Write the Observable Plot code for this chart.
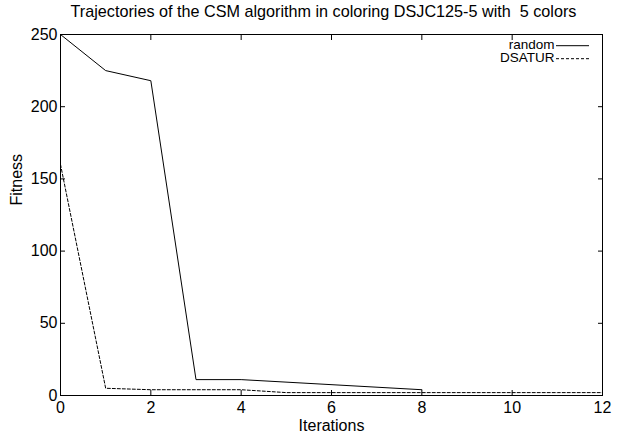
<!DOCTYPE html>
<html><head><meta charset="utf-8">
<script src="https://cdn.jsdelivr.net/npm/d3@7"></script>
<script src="https://cdn.jsdelivr.net/npm/@observablehq/plot@0.6"></script>
<style>
body{margin:0;background:#fff;font-family:"Liberation Sans",Arial,sans-serif;}
#title{height:22px;line-height:22px;font-size:16.2px;text-align:center;padding-left:30px;width:587px;color:#000;white-space:pre;}
</style></head><body>
<div id="title">Trajectories of the CSM algorithm in coloring DSJC125-5 with  5 colors</div>
<div id="chart"></div>
<script>
const xTicks = [0, 2, 4, 6, 8, 10, 12];
const yTicks = [0, 50, 100, 150, 200, 250];
const seriesNames = ["random", "DSATUR"];
const iterRandom = [0, 1, 2, 3, 4, 8];
const fitRandom = [250, 225, 218, 11, 11, 4];
const iterDsatur = [0, 1, 2, 3, 4, 5, 6, 7, 8, 9, 10, 11, 12];
const fitDsatur = [160, 5, 4, 4, 4, 2, 2, 2, 2, 2, 2, 2, 2];

const randomData = iterRandom.map((x, i) => ({x, y: fitRandom[i]}));
const dsaturData = iterDsatur.map((x, i) => ({x, y: fitDsatur[i]}));

const W = 617, H = 414, mL = 60, mR = 15, mT = 12, mB = 41;
const font = "Liberation Sans, Arial, sans-serif";

const plot = Plot.plot({
  width: W, height: H,
  marginLeft: mL, marginRight: mR, marginTop: mT, marginBottom: mB,
  style: {fontFamily: font, fontSize: "16px", color: "#000", background: "#fff"},
  x: {domain: [0, 12]},
  y: {domain: [0, 250]},
  marks: [
    Plot.frame({stroke: "#000", strokeWidth: 1}),
    Plot.axisX({ticks: xTicks, anchor: "bottom", tickSize: 0, tickPadding: 6, label: null, fontSize: 16}),
    Plot.axisX({ticks: xTicks, anchor: "bottom", tickSize: -5, tickFormat: () => "", label: null}),
    Plot.axisX({ticks: xTicks, anchor: "top", tickSize: -5, tickFormat: () => "", label: null}),
    Plot.axisY({ticks: yTicks, anchor: "left", tickSize: 0, tickPadding: 3, label: null, fontSize: 16}),
    Plot.axisY({ticks: yTicks, anchor: "left", tickSize: -5, tickFormat: () => "", label: null}),
    Plot.axisY({ticks: yTicks, anchor: "right", tickSize: -5, tickFormat: () => "", label: null}),
    Plot.line(randomData, {x: "x", y: "y", stroke: "#000", strokeWidth: 1}),
    Plot.line(dsaturData, {x: "x", y: "y", stroke: "#000", strokeWidth: 1, strokeDasharray: "3,2"}),
    Plot.text(["Iterations"], {text: d => d, frameAnchor: "bottom", dy: 30, lineAnchor: "middle", fontSize: 16, fill: "#000"}),
    Plot.text(["Fitness"], {text: d => d, frameAnchor: "left", rotate: -90, dx: -44, dy: -9.5, lineAnchor: "middle", fontSize: 16, fill: "#000"}),
    Plot.text([seriesNames[0]], {text: d => d, frameAnchor: "top-right", textAnchor: "end", dx: -48, dy: 9.7, lineAnchor: "middle", fontSize: 13.5, fill: "#000"}),
    Plot.text([seriesNames[1]], {text: d => d, frameAnchor: "top-right", textAnchor: "end", dx: -48, dy: 23.4, lineAnchor: "middle", fontSize: 13.5, fill: "#000"})
  ]
});

// legend swatches
const svg = d3.select(plot);
const right = W - mR;
svg.append("line").attr("x1", right - 46).attr("x2", right - 13)
  .attr("y1", mT + 11.7).attr("y2", mT + 11.7).attr("stroke", "#000").attr("stroke-width", 1);
svg.append("line").attr("x1", right - 46).attr("x2", right - 13)
  .attr("y1", mT + 24.7).attr("y2", mT + 24.7).attr("stroke", "#000").attr("stroke-width", 1)
  .attr("stroke-dasharray", "3,2");

document.getElementById("chart").appendChild(plot);
</script>
</body></html>
